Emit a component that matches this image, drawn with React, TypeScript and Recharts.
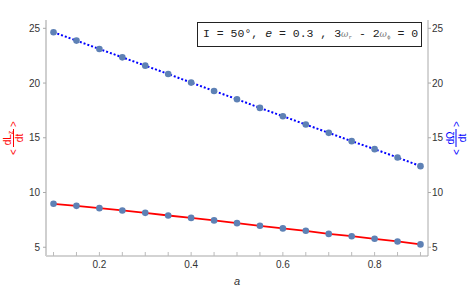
import React from 'react'
import { ComposedChart, Line, XAxis, YAxis } from 'recharts'

// values
const aValues = [0.1, 0.15, 0.2, 0.25, 0.3, 0.35, 0.4, 0.45, 0.5, 0.55, 0.6, 0.65, 0.7, 0.75, 0.8, 0.85, 0.9]
const dLzdt = [8.97, 8.78, 8.57, 8.36, 8.14, 7.9, 7.68, 7.45, 7.2, 6.96, 6.72, 6.5, 6.22, 6.01, 5.77, 5.53, 5.26]
const dOmegadt = [24.64, 23.88, 23.11, 22.35, 21.59, 20.83, 20.04, 19.28, 18.52, 17.73, 16.97, 16.21, 15.45, 14.69, 13.96, 13.2, 12.41]

const xTicks = [0.1, 0.15, 0.2, 0.25, 0.3, 0.35, 0.4, 0.45, 0.5, 0.55, 0.6, 0.65, 0.7, 0.75, 0.8, 0.85, 0.9]
const xLabelled = ['0.2', '0.4', '0.6', '0.8']
const yTicks = [5, 10, 15, 20, 25]

const data = aValues.map((a, i) => ({ a, lz: dLzdt[i], om: dOmegadt[i] }))

const FONT = '"Liberation Sans", Arial, sans-serif'
const tickStyle = { fill: '#333', fontSize: 10, fontFamily: FONT }
const DOT = '#5e81b5'

function xFmt(v: number) {
  const s = v.toFixed(1)
  return xLabelled.includes(s) && Math.abs(v - Number(s)) < 1e-6 ? s : ''
}

// rotated fraction label  < num / dt >
function FracLabel({ viewBox, color, num, dx }: any) {
  const cx = viewBox.x + dx
  const cy = viewBox.y + viewBox.height / 2
  return (
    <g transform={`translate(${cx},${cy}) rotate(-90)`} fill={color} fontFamily={FONT} fontSize={10}>
      <text x={-14} y={0} dy="0.35em" textAnchor="middle">{'<'}</text>
      <text x={0} y={-2.5} textAnchor="middle">{num}</text>
      <line x1={-9} x2={9} y1={0} y2={0} stroke={color} strokeWidth={1} />
      <text x={0} y={9.5} textAnchor="middle">dt</text>
      <text x={14} y={0} dy="0.35em" textAnchor="middle">{'>'}</text>
    </g>
  )
}

function ALabel({ viewBox }: any) {
  return (
    <text x={viewBox.x + viewBox.width / 2} y={viewBox.y + 29} textAnchor="middle"
      fontFamily={FONT} fontSize={11} fontStyle="italic" fill="#333">a</text>
  )
}

const omega = { fontFamily: '"DejaVu Serif", serif', fontStyle: 'italic', fontSize: 9, color: '#777' }
const sub = { fontSize: 6, color: '#777', verticalAlign: -2 }

export default function App() {
  return (
    <div style={{ position: 'absolute', left: 0, top: 0, width: 474, height: 288, background: '#fff' }}>
      <ComposedChart width={474} height={288} data={data}
        margin={{ top: 20, right: 10, bottom: 12, left: 10 }}>
        <XAxis xAxisId="top" orientation="top" dataKey="a" type="number" height={0}
          domain={[0.0836, 0.9164]} allowDataOverflow ticks={xTicks} tickFormatter={() => ''}
          axisLine={{ stroke: '#aaa' }} tickLine={{ stroke: '#aaa' }} tickSize={-4} />
        <XAxis xAxisId="bottom" dataKey="a" type="number" height={20}
          domain={[0.0836, 0.9164]} allowDataOverflow ticks={xTicks} tickFormatter={xFmt}
          axisLine={{ stroke: '#c4c4c4', strokeWidth: 1.5 }} tickLine={{ stroke: '#bbb' }}
          tickSize={-4} tickMargin={9} tick={tickStyle} label={{ content: <ALabel /> }} />
        <YAxis yAxisId="left" width={36} domain={[4.2, 25.76]} allowDataOverflow ticks={yTicks}
          axisLine={{ stroke: '#cfcfcf', strokeWidth: 2 }} tickLine={{ stroke: '#aaa' }}
          tickSize={3} tickMargin={3} tick={tickStyle}
          label={{ content: <FracLabel color="#ff0000" dx={3.5}
            num={<>dL<tspan fontSize={7} dy={2}>z</tspan></>} /> }} />
        <YAxis yAxisId="right" orientation="right" width={36} domain={[4.2, 25.76]} allowDataOverflow
          ticks={yTicks} axisLine={{ stroke: '#aaa' }} tickLine={{ stroke: '#aaa' }}
          tickSize={3} tickMargin={1} tick={tickStyle}
          label={{ content: <FracLabel color="#0000ff" dx={28} num="dΩ" /> }} />
        <Line xAxisId="bottom" yAxisId="left" dataKey="lz" stroke="#ff0000" strokeWidth={1.8}
          dot={{ r: 3.3, fill: DOT, stroke: 'none' }} isAnimationActive={false} />
        <Line xAxisId="bottom" yAxisId="right" dataKey="om" stroke="#0000ff" strokeWidth={2}
          strokeDasharray="2 2" dot={{ r: 3.3, fill: DOT, stroke: 'none', strokeDasharray: '' }}
          isAnimationActive={false} />
      </ComposedChart>
      <div style={{
        position: 'absolute', left: 197, top: 22, width: 225, height: 25, boxSizing: 'border-box',
        border: '1.5px solid #222', background: '#fff', fontFamily: '"Liberation Mono", monospace',
        fontSize: 11.5, lineHeight: '22px', paddingLeft: 5, whiteSpace: 'pre', color: '#222'
      }}>
        I = 50°, <i>e</i> = 0.3 , 3<span style={omega}>ω</span><span style={sub}>r</span>
        {' - 2'}<span style={omega}>ω</span><span style={sub}>ϕ</span>{' = 0'}
      </div>
    </div>
  )
}
